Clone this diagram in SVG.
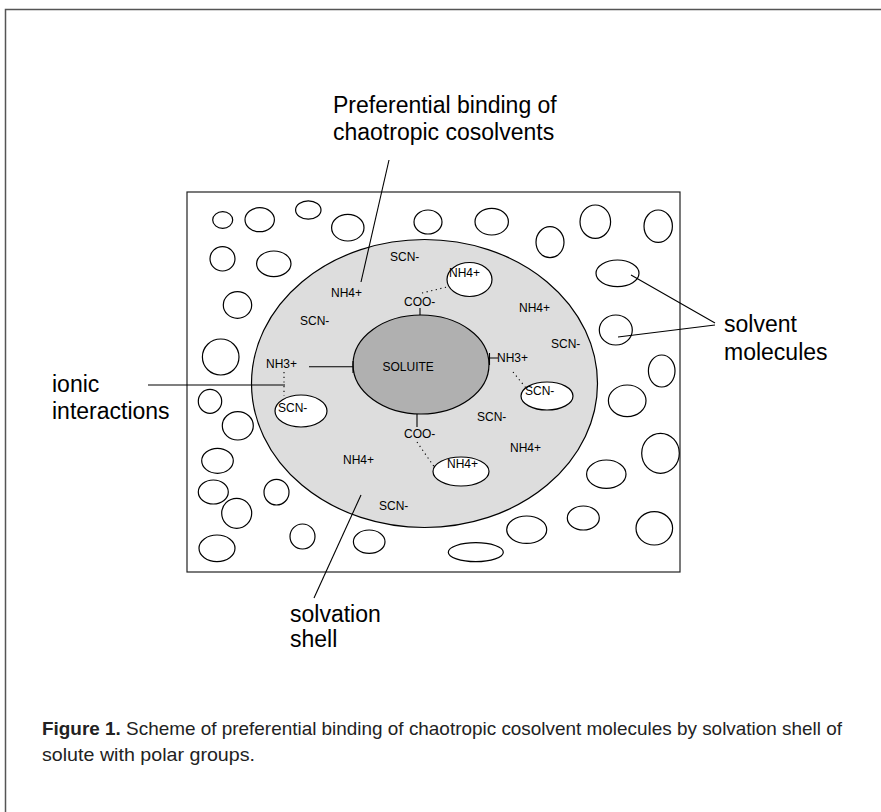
<svg xmlns="http://www.w3.org/2000/svg" width="881" height="812" viewBox="0 0 881 812">
<style>
.mol{fill:#fff;stroke:#000;stroke-width:1.2}
.lbl{font-family:"Liberation Sans",Arial,sans-serif;font-size:12px;fill:#000}
.big{font-family:"Liberation Sans",Arial,sans-serif;font-size:23px;fill:#000}
.ln{stroke:#000;stroke-width:1.1;fill:none}
.dot{stroke:#000;stroke-width:1.1;fill:none;stroke-dasharray:1.2 3.5}
.cap{font-family:"Liberation Sans Narrow","Liberation Sans",Arial,sans-serif;font-size:19px;fill:#222}
</style>
<rect width="881" height="812" fill="#fff"/>
<path d="M5.5 812 V9.5 H881" fill="none" stroke="#555" stroke-width="1.5"/>
<g id="frame"><rect x="187" y="192" width="493" height="380" fill="#fff" stroke="#222" stroke-width="1.2"/></g>
<g id="solvent-molecules">
<ellipse class="mol" cx="222.7" cy="220" rx="10" ry="8.3"/>
<ellipse class="mol" cx="259.7" cy="219.7" rx="14.7" ry="12"/>
<ellipse class="mol" cx="308.3" cy="210" rx="12.7" ry="9.2"/>
<ellipse class="mol" cx="347.8" cy="227.7" rx="16.2" ry="13.3"/>
<ellipse class="mol" cx="428" cy="222" rx="14" ry="12"/>
<ellipse class="mol" cx="222.5" cy="258.8" rx="12.5" ry="12.2"/>
<ellipse class="mol" cx="273.8" cy="263.8" rx="17.2" ry="12.8"/>
<ellipse class="mol" cx="237.5" cy="305" rx="14.2" ry="13.3"/>
<ellipse class="mol" cx="220.7" cy="357" rx="18.3" ry="18"/>
<ellipse class="mol" cx="491.7" cy="221.7" rx="16.7" ry="13.3"/>
<ellipse class="mol" cx="550" cy="242.2" rx="14" ry="15.5"/>
<ellipse class="mol" cx="595.3" cy="221.7" rx="15.3" ry="16.7"/>
<ellipse class="mol" cx="658.2" cy="226.2" rx="14.2" ry="16.2"/>
<ellipse class="mol" cx="617.5" cy="273.3" rx="21.5" ry="13.3"/>
<ellipse class="mol" cx="615.8" cy="330" rx="16.5" ry="15"/>
<ellipse class="mol" cx="661.7" cy="371" rx="13.3" ry="16"/>
<ellipse class="mol" cx="210" cy="401.3" rx="11.7" ry="12"/>
<ellipse class="mol" cx="237.8" cy="425.8" rx="15.5" ry="14.2"/>
<ellipse class="mol" cx="217.5" cy="460.8" rx="15.8" ry="12.5"/>
<ellipse class="mol" cx="213.3" cy="492" rx="15" ry="12"/>
<ellipse class="mol" cx="236.7" cy="513.3" rx="15" ry="15"/>
<ellipse class="mol" cx="217" cy="548.3" rx="18" ry="13.3"/>
<ellipse class="mol" cx="276.5" cy="492.2" rx="12.5" ry="12.8"/>
<ellipse class="mol" cx="302.5" cy="536.5" rx="12.5" ry="12.5"/>
<ellipse class="mol" cx="369.2" cy="541.7" rx="15.8" ry="11.7"/>
<ellipse class="mol" cx="627.2" cy="400.8" rx="18.8" ry="15.8"/>
<ellipse class="mol" cx="660.5" cy="453.3" rx="18.8" ry="20"/>
<ellipse class="mol" cx="606.3" cy="474.2" rx="19.7" ry="14.2"/>
<ellipse class="mol" cx="583.3" cy="518" rx="16" ry="12"/>
<ellipse class="mol" cx="526.7" cy="529.7" rx="20" ry="13.7"/>
<ellipse class="mol" cx="654.3" cy="528.3" rx="18.3" ry="16.7"/>
<ellipse class="mol" cx="475.8" cy="552.2" rx="27.5" ry="9.5"/>
</g>
<g id="solvation-shell"><ellipse cx="424.5" cy="383.5" rx="173" ry="144" fill="#dddddd" stroke="#000" stroke-width="1.2"/></g>
<g id="solute">
<ellipse cx="421" cy="364.5" rx="68" ry="49.5" fill="#b0b0b0" stroke="#000" stroke-width="1.2"/>
<text class="lbl" x="382.5" y="370.5">SOLUITE</text>
</g>
<g id="bound-ions">
<ellipse class="mol" cx="469.5" cy="279.5" rx="22.5" ry="17"/>
<text class="lbl" x="449" y="277">NH4+</text>
<ellipse class="mol" cx="301" cy="411" rx="26" ry="16"/>
<text class="lbl" x="278" y="412">SCN-</text>
<ellipse class="mol" cx="547" cy="396" rx="26" ry="14"/>
<text class="lbl" x="525" y="395">SCN-</text>
<ellipse class="mol" cx="461" cy="471.5" rx="28" ry="14.5"/>
<text class="lbl" x="447" y="468">NH4+</text>
</g>
<g id="groups">
<text class="lbl" x="404" y="306">COO-</text>
<text class="lbl" x="404" y="438">COO-</text>
<text class="lbl" x="266" y="368">NH3+</text>
<text class="lbl" x="497" y="362">NH3+</text>
</g>
<g id="free-ions">
<text class="lbl" x="390" y="261">SCN-</text>
<text class="lbl" x="331" y="297">NH4+</text>
<text class="lbl" x="300" y="325">SCN-</text>
<text class="lbl" x="519" y="312">NH4+</text>
<text class="lbl" x="551" y="348">SCN-</text>
<text class="lbl" x="477" y="421">SCN-</text>
<text class="lbl" x="510" y="452">NH4+</text>
<text class="lbl" x="343" y="464">NH4+</text>
<text class="lbl" x="379" y="510">SCN-</text>
</g>
<g id="connectors">
<path class="ln" d="M420 315 V308"/>
<path class="ln" d="M417 414 V427"/>
<path class="ln" d="M309 366.7 H353 M353 361 V373"/>
<path class="ln" d="M489 358 H498 M489.5 353 V365"/>
<path class="dot" d="M422 293 L447 287"/>
<path class="dot" d="M284 372 L284 396"/>
<path class="dot" d="M513 372 L526 388"/>
<path class="dot" d="M417 442 L435 468"/>
<path class="ln" d="M389 160 L361 282"/>
<path class="ln" d="M148 385 H285"/>
<path class="ln" d="M361 495 L314 598"/>
<path class="ln" d="M631 275 L715 323 M618 337 L715 325"/>
</g>
<g id="labels">
<text class="big"><tspan x="333" y="112.5">Preferential binding of</tspan><tspan x="333" y="140">chaotropic cosolvents</tspan></text>
<text class="big"><tspan x="724" y="332">solvent</tspan><tspan x="724" y="360">molecules</tspan></text>
<text class="big"><tspan x="52" y="392">ionic</tspan><tspan x="52" y="419">interactions</tspan></text>
<text class="big"><tspan x="290" y="622">solvation</tspan><tspan x="290" y="647">shell</tspan></text>
</g>
<g id="caption">
<text class="cap" x="42" y="735" textLength="800" lengthAdjust="spacingAndGlyphs"><tspan font-weight="bold">Figure 1.</tspan> Scheme of preferential binding of chaotropic cosolvent molecules by solvation shell of</text>
<text class="cap" x="42" y="761" textLength="213" lengthAdjust="spacingAndGlyphs">solute with polar groups.</text>
</g>
</svg>
